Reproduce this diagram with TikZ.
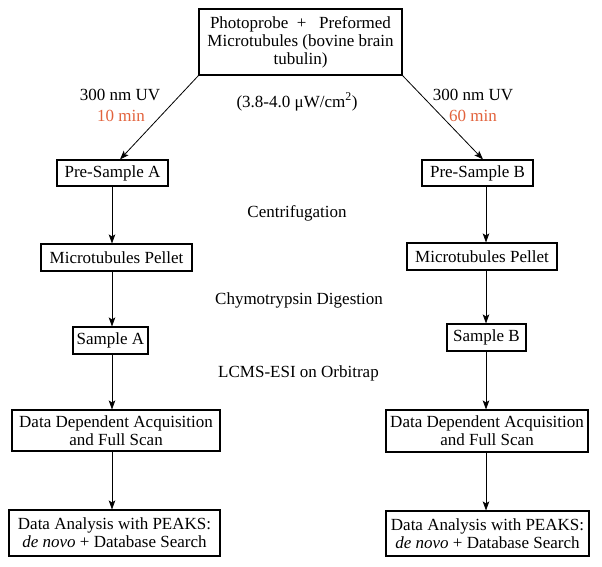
\documentclass[tikz,border=0pt]{standalone}
\usepackage{fontspec}
\setmainfont{Liberation Serif}
\usetikzlibrary{arrows.meta}
\definecolor{timecol}{RGB}{226,98,60}
\begin{document}
\begin{tikzpicture}[x=1pt,y=-1pt,
  box/.style={draw,line width=1.1pt,inner sep=0pt,align=center,
    font=\fontsize{17}{18}\selectfont},
  lbl/.style={inner sep=0pt,align=center,font=\fontsize{17}{20}\selectfont},
  arr/.style={line width=0.8pt,-{Stealth[length=9pt,width=6.5pt,inset=2pt]}}]
\useasboundingbox (0,0) rectangle (602,566);
\node[box,minimum width=203pt,minimum height=66pt] (top) at (300.5,42)
  {Photoprobe\enspace+\enspace\ Preformed\\Microtubules (bovine brain\\tubulin)};
\node[box,minimum width=111pt,minimum height=26pt] (preA) at (112.5,173) {Pre-Sample A};
\node[box,minimum width=111pt,minimum height=26pt] (preB) at (477.5,173) {Pre-Sample B};
\node[box,minimum width=151pt,minimum height=27pt] (pelA) at (116.5,257.5) {Microtubules Pellet};
\node[box,minimum width=150pt,minimum height=27pt] (pelB) at (482,256.5) {Microtubules Pellet};
\node[box,minimum width=75pt,minimum height=27pt] (sA) at (110.5,340.5) {Sample A};
\node[box,minimum width=79pt,minimum height=27pt] (sB) at (486.5,337.5) {Sample B};
\node[box,minimum width=208pt,minimum height=41pt] (ddA) at (116,430.5) {Data Dependent Acquisition\\and Full Scan};
\node[box,minimum width=202pt,minimum height=42pt] (ddB) at (487,431) {Data Dependent Acquisition\\and Full Scan};
\node[box,minimum width=211pt,minimum height=46pt] (daA) at (114.5,533) {Data Analysis with PEAKS:\\\textit{de novo} + Database Search};
\node[box,minimum width=203pt,minimum height=45pt] (daB) at (487.5,533.5) {Data Analysis with PEAKS:\\\textit{de novo} + Database Search};

\node[lbl] (uvA) at (120,95) {300 nm UV};
\node[lbl,text=timecol] (tA) at (121,116) {10 min};
\node[lbl] (uvB) at (473,95) {300 nm UV};
\node[lbl,text=timecol] (tB) at (473,116) {60 min};
\node[lbl] (pow) at (297,102) {(3.8-4.0 μW/cm\textsuperscript{2})};
\node[lbl] (cen) at (297,213) {Centrifugation};
\node[lbl] (chy) at (299,300) {Chymotrypsin Digestion};
\node[lbl] (lcms) at (298.5,373) {LCMS-ESI on Orbitrap};

\coordinate (cA) at (112,0);
\coordinate (cB) at (486,0);
\draw[arr] (top.south west) -- (preA.north -| 120,0);
\draw[arr] (top.south east) -- (preB.north -| 483,0);
\draw[arr] (preA.south -| cA) -- (pelA.north -| cA);
\draw[arr] (pelA.south -| cA) -- (sA.north -| cA);
\draw[arr] (sA.south -| cA) -- (ddA.north -| cA);
\draw[arr] (ddA.south -| cA) -- (daA.north -| cA);
\draw[arr] (preB.south -| cB) -- (pelB.north -| cB);
\draw[arr] (pelB.south -| cB) -- (sB.north -| cB);
\draw[arr] (sB.south -| cB) -- (ddB.north -| cB);
\draw[arr] (ddB.south -| cB) -- (daB.north -| cB);
\end{tikzpicture}
\end{document}
